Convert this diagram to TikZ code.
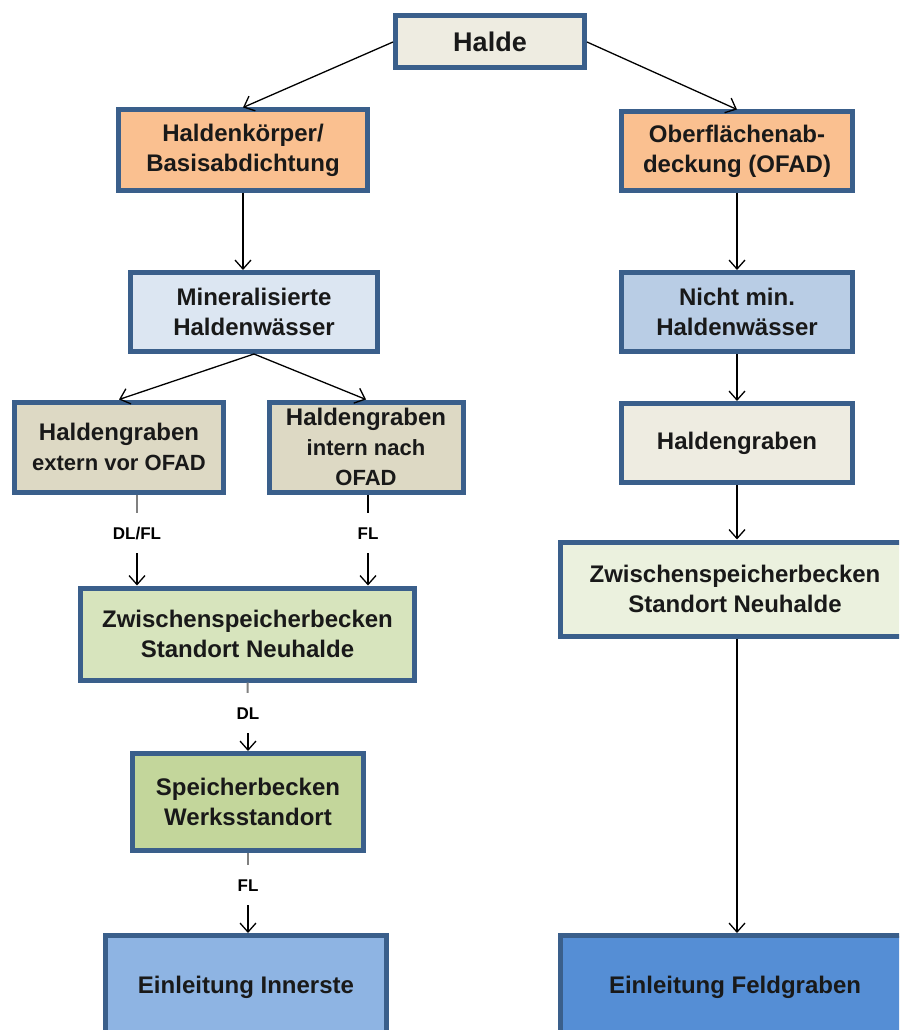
\documentclass[tikz,border=0pt]{standalone}
\usepackage{fontspec}
\setmainfont{Liberation Sans}
\usetikzlibrary{arrows.meta,positioning}

\definecolor{rahmen}{HTML}{3A5F8B}
\definecolor{fbeige}{HTML}{EEECE1}
\definecolor{forange}{HTML}{FAC090}
\definecolor{fhellblau}{HTML}{DCE6F2}
\definecolor{fblau}{HTML}{B9CDE5}
\definecolor{fsand}{HTML}{DDD9C4}
\definecolor{fgruenhell}{HTML}{EBF1DE}
\definecolor{fgruen}{HTML}{D7E4BD}
\definecolor{fgruendunkel}{HTML}{C3D69B}
\definecolor{finnerste}{HTML}{8EB4E3}
\definecolor{ffeld}{HTML}{558ED5}

\tikzset{
	box/.style={draw=rahmen,line width=5pt,align=center,inner sep=0pt,text=black!90,
		font=\bfseries\fontsize{24}{30}\selectfont},
	lbl/.style={font=\bfseries\fontsize{17}{20}\selectfont,inner xsep=2pt,inner ysep=14pt,
		text height=12pt,text depth=0pt},
	pfeil/.style={draw=black,line width=1.3pt,->},
	stub/.style={draw=gray,line width=2pt}
}

\begin{document}
\begin{tikzpicture}[>={Straight Barb[length=9pt,width=16pt]}]
	\clip (0pt,0pt) rectangle (899pt,-1030pt);

	\node[box,fill=fbeige,minimum width=189pt,minimum height=52pt,font=\bfseries\fontsize{27}{32}\selectfont] (halde) at (490pt,-42pt) {Halde};
	\node[box,fill=forange,minimum width=249pt,minimum height=80pt] (hk) at (243pt,-150pt) {Haldenkörper/\\Basisabdichtung};
	\node[box,fill=forange,minimum width=231pt,minimum height=78pt] (ofad) at (737pt,-151pt) {Oberflächenab-\\deckung (OFAD)};
	\node[box,fill=fhellblau,minimum width=247pt,minimum height=79pt] (mhw) at (254pt,-312pt) {Mineralisierte\\Haldenwässer};
	\node[box,fill=fblau,minimum width=231pt,minimum height=79pt] (nmhw) at (737pt,-312pt) {Nicht min.\\Haldenwässer};
	\node[box,fill=fsand,minimum width=209pt,minimum height=90pt] (hge) at (119pt,-447pt) {Haldengraben\\{\fontsize{22}{28}\selectfont extern vor OFAD}};
	\node[box,fill=fsand,minimum width=194pt,minimum height=90pt] (hgi) at (366pt,-447pt) {Haldengraben\\{\fontsize{22}{28}\selectfont intern nach}\\{\fontsize{22}{28}\selectfont OFAD}};
	\node[box,fill=fbeige,minimum width=231pt,minimum height=79pt] (hgr) at (737pt,-443pt) {Haldengraben};
	\node[box,fill=fgruen,minimum width=334pt,minimum height=92pt] (zsl) at (247.5pt,-634pt) {Zwischenspeicherbecken\\Standort Neuhalde};
	\node[box,fill=fgruenhell,minimum width=349pt,minimum height=94pt] (zsr) at (735pt,-589pt) {Zwischenspeicherbecken\\Standort Neuhalde};
	\node[box,fill=fgruendunkel,minimum width=231pt,minimum height=97pt] (sbw) at (248pt,-802pt) {Speicherbecken\\Werksstandort};
	\node[box,fill=finnerste,minimum width=281pt,minimum height=103pt] (ein) at (246pt,-987pt) {Einleitung Innerste};
	\node[box,fill=ffeld,minimum width=349pt,minimum height=103pt] (efg) at (735pt,-987pt) {Einleitung Feldgraben};

	% Beschriftungen der Leitungen
	\node[lbl] (dlfl) at (137pt,-533pt) {DL/FL};
	\node[lbl] (fl1) at (368pt,-533pt) {FL};
	\node[lbl] (dl) at (248pt,-713pt) {DL};
	\node[lbl] (fl2) at (248pt,-885pt) {FL};

	\draw[pfeil] (halde.west) -- (hk.north);
	\draw[pfeil] (halde.east) -- (ofad.north);
	\draw[pfeil] (hk.south) -- (hk.south |- mhw.north);
	\draw[pfeil] (ofad.south) -- (nmhw.north);
	\draw[pfeil] (mhw.south) -- (hge.north);
	\draw[pfeil] (mhw.south) -- (hgi.north);
	\draw[pfeil] (nmhw.south) -- (hgr.north);
	\draw[pfeil] (hgr.south) -- (hgr.south |- zsr.north);
	\draw[pfeil] (zsr.south -| hgr.south) -- (hgr.south |- efg.north);

	\draw[stub] (dlfl |- hge.south) -- (dlfl);
	\draw[pfeil] (dlfl) -- (dlfl |- zsl.north);
	\draw[stub,draw=black] (fl1 |- hgi.south) -- (fl1);
	\draw[pfeil] (fl1) -- (fl1 |- zsl.north);
	\draw[stub] (zsl.south) -- (dl);
	\draw[pfeil] (dl) -- (sbw.north);
	\draw[stub] (sbw.south) -- (fl2);
	\draw[pfeil] (fl2) -- (fl2 |- ein.north);
\end{tikzpicture}
\end{document}
